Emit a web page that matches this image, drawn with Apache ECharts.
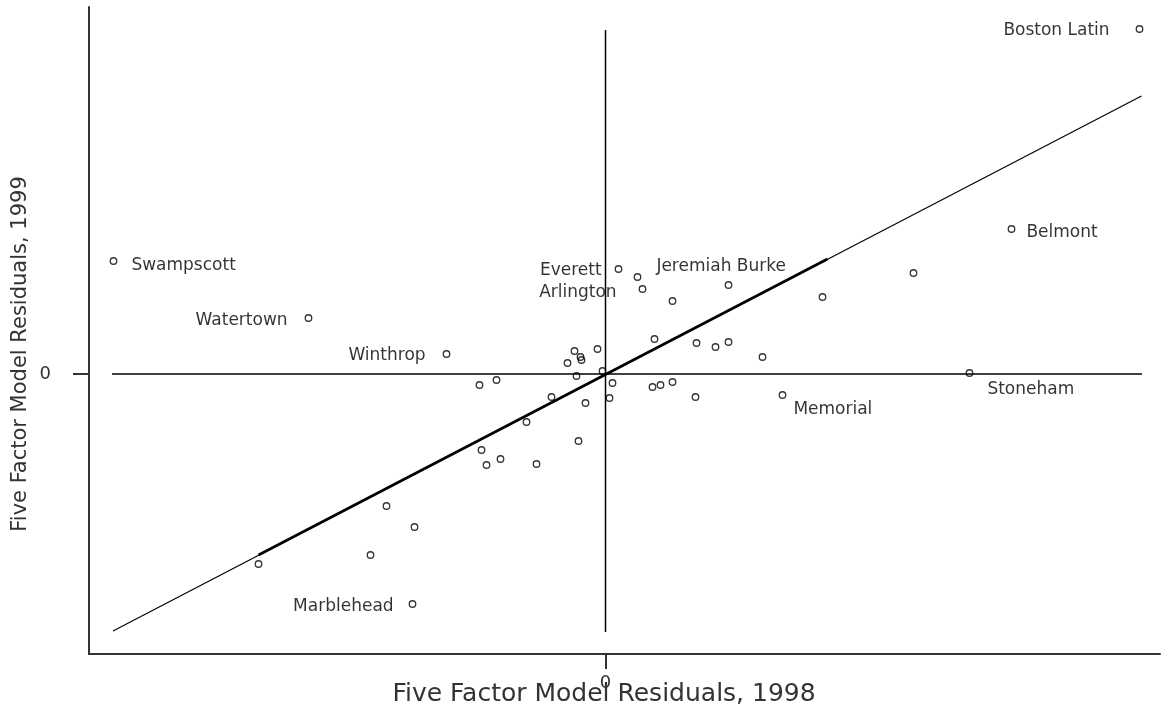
<!DOCTYPE html>
<html>
<head>
<meta charset="utf-8">
<title>Five Factor Model Residuals</title>
<script src="https://cdn.jsdelivr.net/npm/echarts@6/dist/echarts.min.js"></script>
<style>
  html, body { margin: 0; padding: 0; background: #fff; }
  #main { width: 1170px; height: 712px; }
</style>
</head>
<body>
<div id="main"></div>
<script>
// school names ('' = unlabeled point)
var names = [
    'Swampscott', 'Watertown', 'Winthrop', 'Marblehead', 'Everett', 'Arlington',
    'Jeremiah Burke', 'Boston Latin', 'Belmont', 'Stoneham', 'Memorial',
    '', '', '', '', '', '', '', '', '', '', '', '', '', '', '', '', '', '', '',
    '', '', '', '', '', '', '', '', '', '', '', '', '', '', '', '', ''
];
// residuals, 1998 (x) and 1999 (y)
var res98 = [
    -0.492, -0.297, -0.159, -0.193, 0.013, 0.037,
    0.032, 0.534, 0.406, 0.364, 0.177,
    0.123, 0.067, 0.308, 0.217, -0.031, -0.025, -0.024, -0.038, -0.008, 0.049,
    0.091, 0.110, 0.123, 0.157, -0.029, -0.003, 0.007, -0.126, -0.109, -0.054,
    -0.020, 0.004, 0.047, 0.055, 0.067, 0.090, -0.079, -0.027, -0.124, -0.119,
    -0.105, -0.069, -0.219, -0.191, -0.235, -0.347
];
var res99 = [
    0.113, 0.056, 0.020, -0.230, 0.105, 0.085,
    0.097, 0.345, 0.145, 0.001, -0.021,
    0.089, 0.073, 0.101, 0.077, 0.023, 0.017, 0.014, 0.011, 0.025, 0.035,
    0.031, 0.027, 0.032, 0.017, -0.002, 0.003, -0.009, -0.011, -0.006, -0.023,
    -0.029, -0.024, -0.013, -0.011, -0.008, -0.023, -0.048, -0.067, -0.076, -0.091,
    -0.085, -0.090, -0.132, -0.153, -0.181, -0.190
];
// zero reference lines (extent of the data)
var zeroLineX = [-0.4935, 0.5365];
var zeroLineY = [-0.258, 0.344];
// fitted line, full range and central part
var fitX = [-0.4925, 0.536];
var fitY = [-0.257, 0.278];
var fitMidX = [-0.347, 0.222];
var fitMidY = [-0.181, 0.115];
var tickValues = [0];

// where each label sits around its point
var labelPlace = {
    'Swampscott':     { position: 'right', distance: 14, offset: [0, 5] },
    'Watertown':      { position: 'left',  distance: 17, offset: [0, 3] },
    'Winthrop':       { position: 'left',  distance: 17, offset: [0, 2] },
    'Marblehead':     { position: 'left',  distance: 15, offset: [0, 3] },
    'Everett':        { position: 'left',  distance: 13, offset: [0, 2] },
    'Arlington':      { position: 'left',  distance: 22, offset: [0, 4] },
    'Jeremiah Burke': { position: 'right', distance: 15, offset: [0, -10] },
    'Boston Latin':   { position: 'left',  distance: 26, offset: [0, 2] },
    'Belmont':        { position: 'right', distance: 11, offset: [0, 4] },
    'Stoneham':       { position: 'right', distance: 14, offset: [0, 17] },
    'Memorial':       { position: 'right', distance: 7,  offset: [0, 15] }
};

var points = [];
for (var i = 0; i < res98.length; i++) {
    var item = { name: names[i], value: [res98[i], res99[i]] };
    if (names[i]) {
        var p = labelPlace[names[i]];
        item.label = {
            show: true,
            formatter: '{b}',
            position: p.position,
            distance: p.distance,
            offset: p.offset
        };
    }
    points.push(item);
}

function pairs(xs, ys) {
    var out = [];
    for (var i = 0; i < xs.length; i++) out.push([xs[i], ys[i]]);
    return out;
}

var myChart = echarts.init(document.getElementById('main'));

var option = {
    animation: false,
    backgroundColor: '#fff',
    textStyle: { fontFamily: 'DejaVu Sans' },
    grid: {
        left: 89,
        right: 10,
        top: 7,
        bottom: 58,
        outerBoundsMode: 'none'
    },
    xAxis: {
        type: 'value',
        min: -0.5165,
        max: 0.5545,
        name: 'Five Factor Model Residuals, 1998',
        nameLocation: 'middle',
        nameGap: 28,
        nameMoveOverlap: false,
        nameTextStyle: { fontSize: 25, color: '#333', padding: [0, 41, 0, 0] },
        splitLine: { show: false },
        axisLine: { onZero: false, lineStyle: { color: '#333', width: 2 } },
        axisTick: { customValues: tickValues, length: 15, lineStyle: { color: '#333', width: 2 } },
        axisLabel: {
            customValues: tickValues,
            margin: 20,
            fontSize: 18,
            color: '#333',
            formatter: function (v) { return String(v); }
        }
    },
    yAxis: {
        type: 'value',
        min: -0.28,
        max: 0.367,
        name: 'Five Factor Model Residuals, 1999',
        nameLocation: 'middle',
        nameGap: 58,
        nameMoveOverlap: false,
        nameTextStyle: { fontSize: 21, color: '#333', padding: [0, 47, 0, 0] },
        splitLine: { show: false },
        axisLine: { onZero: false, lineStyle: { color: '#333', width: 2 } },
        axisTick: { customValues: tickValues, length: 16, lineStyle: { color: '#333', width: 2 } },
        axisLabel: {
            customValues: tickValues,
            margin: 38,
            fontSize: 18,
            color: '#333',
            formatter: function (v) { return String(v); }
        }
    },
    series: [
        {
            type: 'line',
            data: pairs(zeroLineX, [0, 0]),
            showSymbol: false,
            silent: true,
            lineStyle: { color: '#000', width: 1.5 }
        },
        {
            type: 'line',
            data: pairs([0, 0], zeroLineY),
            showSymbol: false,
            silent: true,
            lineStyle: { color: '#000', width: 1.5 }
        },
        {
            type: 'line',
            data: pairs(fitX, fitY),
            showSymbol: false,
            silent: true,
            lineStyle: { color: '#000', width: 1.2 }
        },
        {
            type: 'line',
            data: pairs(fitMidX, fitMidY),
            showSymbol: false,
            silent: true,
            lineStyle: { color: '#000', width: 2.6 }
        },
        {
            name: 'Schools',
            type: 'scatter',
            symbol: 'circle',
            symbolSize: 6.5,
            data: points,
            itemStyle: {
                color: 'rgba(255,255,255,0)',
                borderColor: '#000',
                borderWidth: 1.3
            },
            label: {
                fontFamily: 'DejaVu Sans',
                fontSize: 17,
                color: '#000'
            }
        }
    ]
};

myChart.setOption(option);
</script>
</body>
</html>
